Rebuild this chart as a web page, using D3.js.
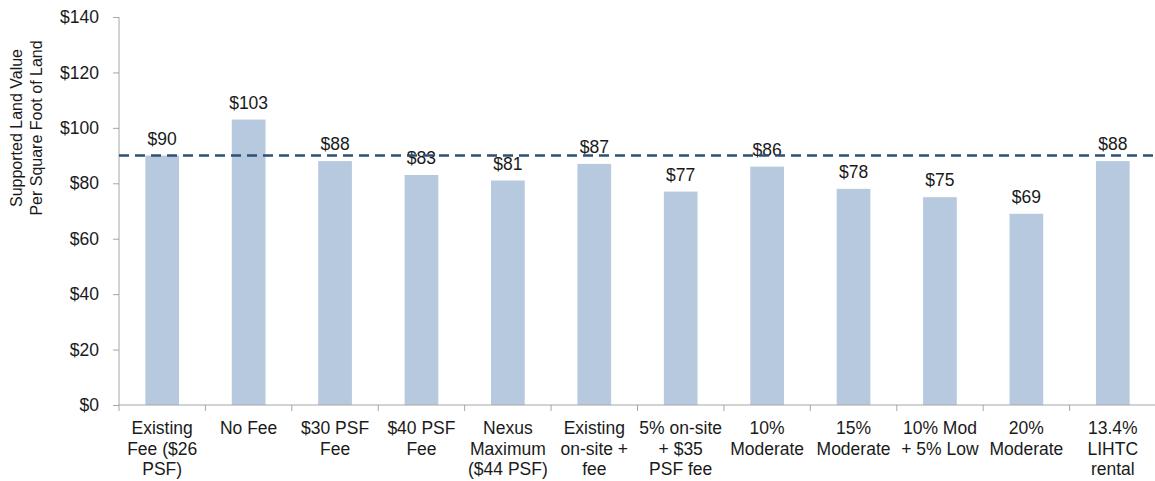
<!DOCTYPE html>
<html>
<head>
<meta charset="utf-8">
<script src="https://d3js.org/d3.v7.min.js"></script>
<style>
  body { margin: 0; background: #fff; }
  svg text { font-family: "Liberation Sans", Arial, sans-serif; fill: #1a1a1a; }
</style>
</head>
<body>
<script>
// data
const categories = [
  ["Existing", "Fee ($26", "PSF)"],
  ["No Fee"],
  ["$30 PSF", "Fee"],
  ["$40 PSF", "Fee"],
  ["Nexus", "Maximum", "($44 PSF)"],
  ["Existing", "on-site +", "fee"],
  ["5% on-site", "+ $35", "PSF fee"],
  ["10%", "Moderate"],
  ["15%", "Moderate"],
  ["10% Mod", "+ 5% Low"],
  ["20%", "Moderate"],
  ["13.4%", "LIHTC", "rental"]
];
const values = [90, 103, 88, 83, 81, 87, 77, 86, 78, 75, 69, 88];
const baseline = 90;
const yTicks = [0, 20, 40, 60, 80, 100, 120, 140];
const yTitle = ["Supported Land Value", "Per Square Foot of Land"];

const width = 1155, height = 481;
const margin = {top: 17, right: 0, bottom: 75, left: 119};
const fs = "17.5px";

const svg = d3.select("body").append("svg")
  .attr("width", width).attr("height", height);

const x = d3.scaleBand()
  .domain(d3.range(values.length))
  .range([margin.left, width + 1])
  .paddingInner(0.61).paddingOuter(0.305);

const y = d3.scaleLinear().domain([0, 140]).range([height - margin.bottom - 1, margin.top]);

// bars
svg.append("g").selectAll("rect").data(values).join("rect")
  .attr("x", (d, i) => x(i))
  .attr("y", d => y(d))
  .attr("width", x.bandwidth())
  .attr("height", d => y(0) - y(d))
  .attr("fill", "#b7c9de");

// value labels
svg.append("g").selectAll("text").data(values).join("text")
  .attr("x", (d, i) => x(i) + x.bandwidth() / 2)
  .attr("y", d => y(d) - 11)
  .attr("text-anchor", "middle")
  .style("font-size", fs)
  .text(d => "$" + d);

// y axis
const yAxis = svg.append("g")
  .attr("transform", `translate(${margin.left},0)`)
  .call(d3.axisLeft(y).tickValues(yTicks).tickSize(6).tickPadding(14).tickFormat(d => "$" + d));
yAxis.select(".domain").attr("stroke", "#a6a6a6").attr("d", `M0,${y(140)}V${y(0)}`);
yAxis.selectAll(".tick line").attr("stroke", "#a6a6a6");
yAxis.selectAll(".tick text").style("font-size", fs).attr("fill", "#1a1a1a");

// x axis with ticks at band boundaries
const step = x.step();
const xg = svg.append("g");
xg.append("line")
  .attr("x1", margin.left).attr("x2", width)
  .attr("y1", y(0)).attr("y2", y(0))
  .attr("stroke", "#a6a6a6");
xg.selectAll("line.tk").data(d3.range(values.length + 1)).join("line")
  .attr("class", "tk")
  .attr("x1", i => margin.left + i * step).attr("x2", i => margin.left + i * step)
  .attr("y1", y(0)).attr("y2", y(0) + 6)
  .attr("stroke", "#a6a6a6");

const labels = xg.selectAll("text").data(categories).join("text")
  .attr("text-anchor", "middle")
  .style("font-size", fs);
labels.selectAll("tspan").data((d, i) => d.map(t => ({t, i}))).join("tspan")
  .attr("x", d => x(d.i) + x.bandwidth() / 2)
  .attr("y", (d, j) => y(0) + 29 + j * 20.5)
  .text(d => d.t);

// dashed reference line
svg.append("line")
  .attr("x1", margin.left).attr("x2", width)
  .attr("y1", y(baseline)).attr("y2", y(baseline))
  .attr("stroke", "#2e5077")
  .attr("stroke-width", 2.5)
  .attr("stroke-dasharray", "10,6");

// y title
svg.append("text")
  .attr("transform", `translate(0,${(y(140) + y(0)) / 2 - 83}) rotate(-90)`)
  .attr("text-anchor", "middle")
  .style("font-size", "16px")
  .selectAll("tspan").data(yTitle).join("tspan")
  .attr("x", 0)
  .attr("y", (d, i) => 22 + i * 20)
  .text(d => d);
</script>
</body>
</html>
